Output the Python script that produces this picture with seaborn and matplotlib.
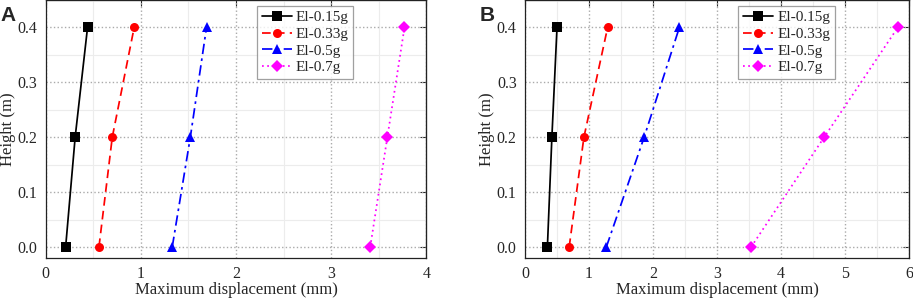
import pandas as pd
import numpy as np
import seaborn as sns
import matplotlib.pyplot as plt
from matplotlib.ticker import MultipleLocator

# Data
heights = [0.0, 0.2, 0.4]
series_names = ["El-0.15g", "El-0.33g", "El-0.5g", "El-0.7g"]

disp_a_015 = [0.21, 0.31, 0.44]
disp_a_033 = [0.56, 0.70, 0.93]
disp_a_05 = [1.33, 1.52, 1.69]
disp_a_07 = [3.41, 3.59, 3.77]

disp_b_015 = [0.35, 0.42, 0.50]
disp_b_033 = [0.69, 0.92, 1.29]
disp_b_05 = [1.27, 1.86, 2.41]
disp_b_07 = [3.53, 4.67, 5.82]

colors = ["black", "red", "blue", "magenta"]
markers = ["s", "o", "^", "D"]
dashes = ["", (5, 3), (6, 2.5, 1.5, 2.5), (1, 2)]


def build_frame(values):
    rows = []
    for name, disp in zip(series_names, values):
        for h, d in zip(heights, disp):
            rows.append({"series": name, "height": h, "disp": d})
    return pd.DataFrame(rows)


df_a = build_frame([disp_a_015, disp_a_033, disp_a_05, disp_a_07])
df_b = build_frame([disp_b_015, disp_b_033, disp_b_05, disp_b_07])

sns.set_style("white")
plt.rcParams["font.family"] = "serif"
plt.rcParams["font.serif"] = ["Liberation Serif", "DejaVu Serif"]

fig = plt.figure(figsize=(9.13, 3.0), dpi=100)
ax_a = fig.add_axes([0.050, 0.14, 0.417, 0.86])
ax_b = fig.add_axes([0.575, 0.14, 0.421, 0.86])


def draw_panel(ax, df, xmax, label):
    sns.lineplot(
        data=df, x="disp", y="height", hue="series", style="series",
        hue_order=series_names, style_order=series_names,
        palette=colors, markers=markers, dashes=dashes,
        orient="y", sort=True, markersize=6.5, linewidth=1.25,
        markeredgewidth=0, ax=ax,
    )
    ax.set_xlim(0, xmax)
    ax.set_ylim(-0.02, 0.45)
    ax.xaxis.set_major_locator(MultipleLocator(1))
    ax.xaxis.set_minor_locator(MultipleLocator(0.5))
    ax.yaxis.set_major_locator(MultipleLocator(0.1))
    ax.yaxis.set_minor_locator(MultipleLocator(0.05))
    ax.yaxis.set_major_formatter(lambda v, pos: f"{v:.1f}")
    ax.grid(which="major", linestyle=":", color="#aaaaaa", linewidth=1.0)
    ax.grid(which="minor", linestyle="-", color="#ececec", linewidth=0.8)
    ax.set_axisbelow(True)
    ax.tick_params(which="both", direction="out", labelsize=11.5, width=0.9, pad=2)
    ax.tick_params(which="major", length=4)
    ax.tick_params(which="minor", length=2.5)
    for sp in ax.spines.values():
        sp.set_linewidth(0.9)
        sp.set_color("#222222")
    ax.set_xlabel("Maximum displacement (mm)", fontsize=12, labelpad=0)
    ax.set_ylabel("Height (m)", fontsize=12, labelpad=1)

    # inward ticks on top and right
    top = ax.secondary_xaxis("top")
    top.xaxis.set_major_locator(MultipleLocator(1))
    top.xaxis.set_minor_locator(MultipleLocator(0.5))
    top.tick_params(which="both", direction="in", labeltop=False)
    top.tick_params(which="major", length=4)
    top.tick_params(which="minor", length=2.5)
    right = ax.secondary_yaxis("right")
    right.yaxis.set_major_locator(MultipleLocator(0.1))
    right.yaxis.set_minor_locator(MultipleLocator(0.05))
    right.tick_params(which="both", direction="in", labelright=False)
    right.tick_params(which="major", length=4)
    right.tick_params(which="minor", length=2.5)

    leg = ax.legend(
        loc="upper left", bbox_to_anchor=(0.555, 0.977), fontsize=11,
        frameon=True, fancybox=False, edgecolor="#888888",
        handlelength=2.0, handletextpad=0.25, borderpad=0.3,
        labelspacing=0.2, borderaxespad=0,
    )
    leg.get_frame().set_linewidth(0.9)

    fig.text(ax.get_position().x0 - 0.05, 0.98, label, fontsize=15,
             fontweight="bold", family="Liberation Sans", va="top", ha="left")


draw_panel(ax_a, df_a, 4, "A")
draw_panel(ax_b, df_b, 6, "B")

fig.savefig("out.png", dpi=100)
